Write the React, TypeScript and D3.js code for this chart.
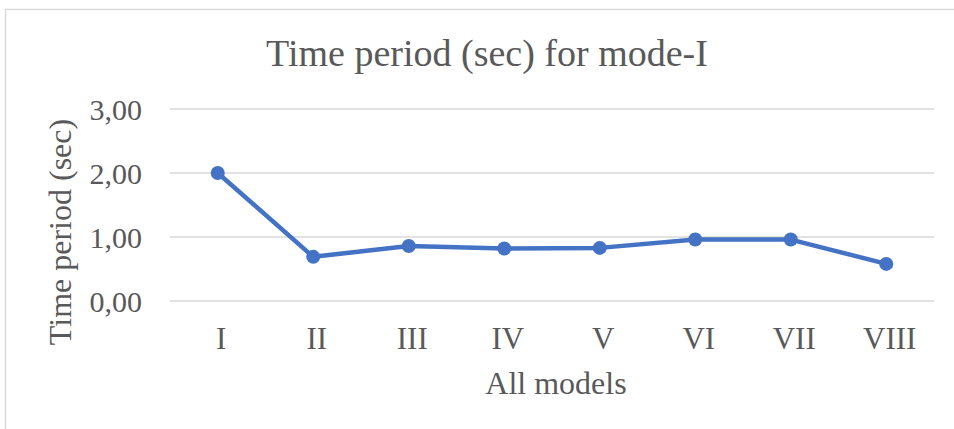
import React, { useRef, useEffect } from 'react';
import * as d3 from 'd3';

const models = ['I', 'II', 'III', 'IV', 'V', 'VI', 'VII', 'VIII'];
const periods = [2.0, 0.69, 0.86, 0.82, 0.83, 0.96, 0.96, 0.58];
const yTicks = [0, 1, 2, 3];

const TEXT_COLOR = '#595959';
const LINE_COLOR = '#4472C4';
const GRID_COLOR = '#d9d9d9';
const FONT = '"Liberation Serif", "Times New Roman", serif';

const App = () => {
  const svgRef = useRef<SVGSVGElement>(null);

  useEffect(() => {
    const svg = d3.select(svgRef.current);
    svg.selectAll('*').remove();

    const width = 954;
    const height = 429;
    const margin = { top: 109, right: 20, bottom: 128, left: 170 };
    const plotRight = width - margin.right;
    const plotBottom = height - margin.bottom;

    // chart frame (only left and top edges are visible in the picture)
    svg.append('rect')
      .attr('x', 5.5)
      .attr('y', 9.5)
      .attr('width', width + 20)
      .attr('height', height + 20)
      .attr('fill', '#fff')
      .attr('stroke', GRID_COLOR)
      .attr('stroke-width', 1.5);

    const x = d3.scalePoint<string>()
      .domain(models)
      .range([margin.left, plotRight])
      .padding(0.5);

    const y = d3.scaleLinear()
      .domain([0, 3])
      .range([plotBottom, margin.top]);

    const fmt = (v: number) => d3.format('.2f')(v).replace('.', ',');

    // gridlines
    svg.append('g')
      .selectAll('line')
      .data(yTicks)
      .enter()
      .append('line')
      .attr('x1', margin.left)
      .attr('x2', plotRight)
      .attr('y1', d => y(d))
      .attr('y2', d => y(d))
      .attr('stroke', GRID_COLOR)
      .attr('stroke-width', 1.5);

    // y tick labels
    svg.append('g')
      .selectAll('text')
      .data(yTicks)
      .enter()
      .append('text')
      .attr('x', 142)
      .attr('y', d => y(d))
      .attr('dy', '0.35em')
      .attr('text-anchor', 'end')
      .attr('font-family', FONT)
      .attr('font-size', 30)
      .attr('fill', TEXT_COLOR)
      .text(d => fmt(d));

    // x tick labels (sit a few px right of the points in the original)
    svg.append('g')
      .selectAll('text')
      .data(models)
      .enter()
      .append('text')
      .attr('x', d => (x(d) as number) + 3.5)
      .attr('y', 349)
      .attr('text-anchor', 'middle')
      .attr('font-family', FONT)
      .attr('font-size', 31)
      .attr('fill', TEXT_COLOR)
      .text(d => d);

    // line + markers
    const pts = models.map((m, i) => ({ m, v: periods[i] }));
    const line = d3.line<{ m: string; v: number }>()
      .x(d => x(d.m) as number)
      .y(d => y(d.v));

    svg.append('path')
      .datum(pts)
      .attr('fill', 'none')
      .attr('stroke', LINE_COLOR)
      .attr('stroke-width', 4.5)
      .attr('stroke-linejoin', 'round')
      .attr('d', line);

    svg.append('g')
      .selectAll('circle')
      .data(pts)
      .enter()
      .append('circle')
      .attr('cx', d => x(d.m) as number)
      .attr('cy', d => y(d.v))
      .attr('r', 7)
      .attr('fill', LINE_COLOR);

    // title
    svg.append('text')
      .attr('x', 487)
      .attr('y', 66)
      .attr('text-anchor', 'middle')
      .attr('font-family', FONT)
      .attr('font-size', 38)
      .attr('fill', TEXT_COLOR)
      .text('Time period (sec) for mode-I');

    // axis titles
    svg.append('text')
      .attr('x', 556)
      .attr('y', 394)
      .attr('text-anchor', 'middle')
      .attr('font-family', FONT)
      .attr('font-size', 32)
      .attr('fill', TEXT_COLOR)
      .text('All models');

    svg.append('text')
      .attr('transform', 'translate(71,232) rotate(-90)')
      .attr('text-anchor', 'middle')
      .attr('font-family', FONT)
      .attr('font-size', 32)
      .attr('fill', TEXT_COLOR)
      .text('Time period (sec)');
  }, []);

  return (
    <svg
      ref={svgRef}
      width={954}
      height={429}
      style={{ position: 'absolute', left: 0, top: 0, background: '#fff' }}
    />
  );
};

export default App;
